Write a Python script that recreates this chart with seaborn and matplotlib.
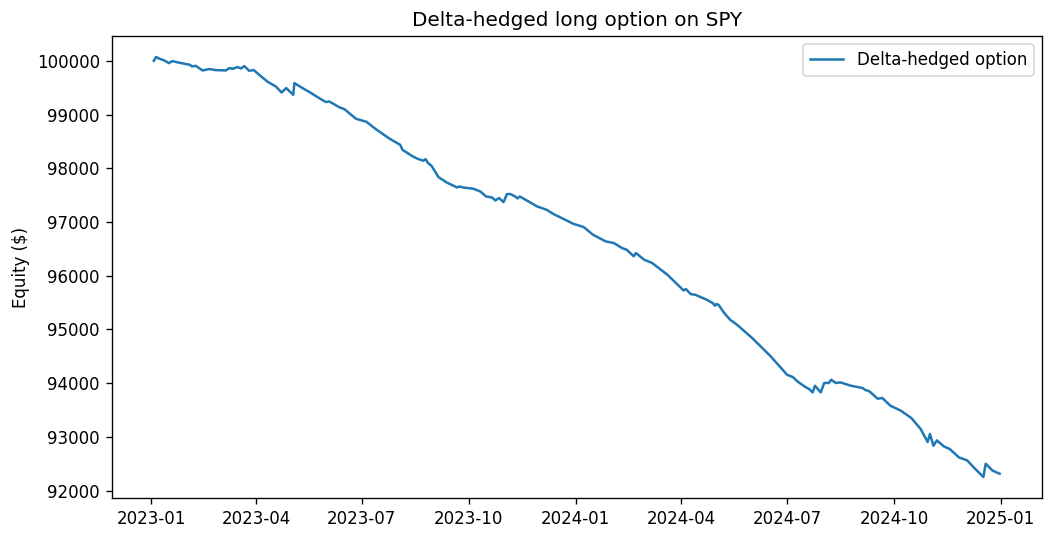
import pandas as pd
import matplotlib
matplotlib.use("Agg")
import matplotlib.pyplot as plt
import seaborn as sns

# equity curve
dates = [
    "2023-01-03", "2023-01-05", "2023-01-08", "2023-01-12", "2023-01-16", "2023-01-19",
    "2023-01-25", "2023-02-03", "2023-02-05", "2023-02-08", "2023-02-14", "2023-02-20",
    "2023-02-25", "2023-03-06", "2023-03-09", "2023-03-12", "2023-03-16", "2023-03-19",
    "2023-03-22", "2023-03-26", "2023-03-30", "2023-04-04", "2023-04-11", "2023-04-18",
    "2023-04-23", "2023-04-27", "2023-04-30", "2023-05-03", "2023-05-04", "2023-05-11",
    "2023-05-17", "2023-05-23", "2023-05-31", "2023-06-03", "2023-06-12", "2023-06-16",
    "2023-06-26", "2023-07-05", "2023-07-13", "2023-07-25", "2023-08-03", "2023-08-05",
    "2023-08-14", "2023-08-18", "2023-08-23", "2023-08-25", "2023-08-27", "2023-08-30",
    "2023-09-05", "2023-09-12", "2023-09-18", "2023-09-21", "2023-09-23", "2023-09-26",
    "2023-10-05", "2023-10-11", "2023-10-16", "2023-10-21", "2023-10-24", "2023-10-27",
    "2023-10-31", "2023-11-03", "2023-11-06", "2023-11-10", "2023-11-12", "2023-11-14",
    "2023-11-29", "2023-12-07", "2023-12-13", "2023-12-19", "2023-12-30", "2024-01-08",
    "2024-01-16", "2024-01-27", "2024-02-03", "2024-02-10", "2024-02-14", "2024-02-20",
    "2024-02-22", "2024-02-29", "2024-03-07", "2024-03-20", "2024-04-03", "2024-04-05",
    "2024-04-09", "2024-04-13", "2024-04-23", "2024-04-28", "2024-04-30", "2024-05-01",
    "2024-05-03", "2024-05-08", "2024-05-13", "2024-05-19", "2024-06-01", "2024-06-17",
    "2024-07-01", "2024-07-06", "2024-07-10", "2024-07-16", "2024-07-20", "2024-07-23",
    "2024-07-25", "2024-07-30", "2024-08-02", "2024-08-06", "2024-08-08", "2024-08-12",
    "2024-08-16", "2024-08-25", "2024-09-04", "2024-09-06", "2024-09-10", "2024-09-17",
    "2024-09-21", "2024-09-28", "2024-10-07", "2024-10-16", "2024-10-24", "2024-10-30",
    "2024-11-01", "2024-11-04", "2024-11-07", "2024-11-13", "2024-11-18", "2024-11-26",
    "2024-12-03", "2024-12-10", "2024-12-17", "2024-12-19", "2024-12-25", "2024-12-31",
]
equity = [
    100000, 100070, 100037, 100006, 99957, 99994,
    99963, 99926, 99894, 99907, 99820, 99846,
    99827, 99820, 99864, 99851, 99883, 99857,
    99901, 99814, 99827, 99734, 99609, 99522,
    99410, 99492, 99429, 99367, 99585, 99492,
    99418, 99336, 99232, 99243, 99131, 99101,
    98921, 98865, 98729, 98549, 98437, 98344,
    98219, 98177, 98140, 98171, 98097, 98046,
    97836, 97736, 97674, 97643, 97661, 97643,
    97619, 97568, 97475, 97457, 97401, 97446,
    97371, 97520, 97520, 97475, 97438, 97475,
    97289, 97228, 97148, 97085, 96967, 96906,
    96763, 96638, 96608, 96515, 96484, 96363,
    96422, 96298, 96236, 96019, 95726, 95752,
    95659, 95646, 95553, 95492, 95442, 95473,
    95460, 95306, 95181, 95088, 94841, 94499,
    94158, 94115, 94033, 93940, 93892, 93829,
    93953, 93829, 94004, 94004, 94065, 94004,
    94015, 93953, 93911, 93879, 93847, 93712,
    93725, 93581, 93488, 93352, 93148, 92906,
    93055, 92837, 92936, 92824, 92776, 92619,
    92564, 92404, 92255, 92502, 92372, 92316,
]

df = pd.DataFrame({"date": pd.to_datetime(dates), "equity": equity})

fig, ax = plt.subplots(figsize=(1053 / 120, 540 / 120), dpi=120)
fig.subplots_adjust(left=0.1059, right=0.9895, top=0.9333, bottom=0.0778)

sns.lineplot(data=df, x="date", y="equity", ax=ax, color="#1f77b4",
             linewidth=1.5, label="Delta-hedged option")

ax.set_title("Delta-hedged long option on SPY")
ax.set_xlabel("")
ax.set_ylabel("Equity ($)")
ax.legend(loc="upper right")

fig.savefig("out.png", dpi=120)
